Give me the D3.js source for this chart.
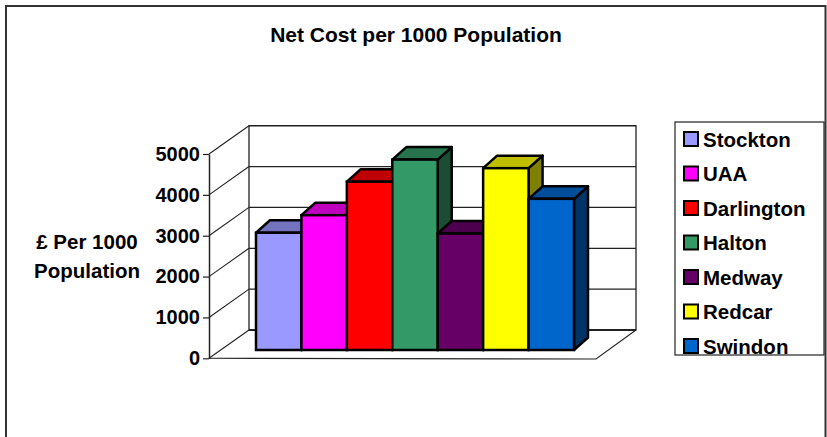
<html>
<head>
    <meta charset="utf-8" />
    <title>Net Cost per 1000 Population</title>
    <script src="https://d3js.org/d3.v7.min.js"></script>
    <style>
      body { margin: 0; background: #fff; }
      text { font-family: "Liberation Sans", Arial, sans-serif; font-weight: bold; fill: #000; }
    </style>
</head>
<body>
    <svg class="chart"></svg>
    <script type="application/javascript">
    // data
    const series = ["Stockton", "UAA", "Darlington", "Halton", "Medway", "Redcar", "Swindon"];
    const values = [2870, 3300, 4120, 4660, 2850, 4450, 3700];
    const colors = ["#9999FF", "#FF00FF", "#FF0000", "#339966", "#660066", "#FFFF00", "#0066CC"];
    const ticks = [0, 1000, 2000, 3000, 4000, 5000];

    const W = 827, H = 437;
    const svg = d3.select("svg").attr("width", W).attr("height", H);

    // outer chart border
    svg.append("rect")
      .attr("x", 6).attr("y", 6).attr("width", 819.5).attr("height", 440)
      .attr("fill", "#fff").attr("stroke", "#333").attr("stroke-width", 2);

    svg.append("text")
      .attr("x", 416).attr("y", 42)
      .attr("text-anchor", "middle")
      .style("font-size", "21px")
      .text("Net Cost per 1000 Population");

    // 3d box: front plane and depth offset to the back wall
    const axX = 209, depthX = 40, depthY = -28.3;
    const floorRight = 596;
    const yFront = d3.scaleLinear().domain([0, 5000]).range([358.3, 154]);
    const yBack = v => yFront(v) + depthY;

    const g = svg.append("g");

    // back wall
    g.append("rect")
      .attr("x", axX + depthX).attr("y", yBack(5000))
      .attr("width", floorRight - axX).attr("height", yBack(0) - yBack(5000))
      .attr("fill", "#fff").attr("stroke", "#222").attr("stroke-width", 1.3);

    // gridlines on back wall and side wall
    g.selectAll(".grid").data(ticks).enter().append("line")
      .attr("x1", axX + depthX).attr("x2", floorRight + depthX)
      .attr("y1", d => yBack(d)).attr("y2", d => yBack(d))
      .attr("stroke", "#222").attr("stroke-width", d => d === 0 ? 2 : 1.3);
    g.selectAll(".side").data(ticks).enter().append("line")
      .attr("x1", axX).attr("x2", axX + depthX)
      .attr("y1", d => yFront(d)).attr("y2", d => yBack(d))
      .attr("stroke", "#222").attr("stroke-width", 1.1);

    // floor
    g.append("path")
      .attr("d", `M${axX},${yFront(0)}L${floorRight},${yFront(0) + 0.7}L${floorRight + depthX},${yBack(0)}`)
      .attr("fill", "none").attr("stroke", "#222").attr("stroke-width", 1.1);

    // bars
    const x = d3.scaleBand().domain(series).range([256, 574]).padding(0);
    const y = d3.scaleLinear().domain([0, 5000]).range([350, 145.7]);
    const bdx = 14, bdy = -12.5;
    const shade = (c, k) => { const r = d3.rgb(c); return d3.rgb(r.r * k, r.g * k, r.b * k).toString(); };

    const bars = g.selectAll(".bar").data(series).enter().append("g").attr("class", "bar");
    bars.append("path")
      .attr("d", (d, i) => {
        const x1 = x(d) + x.bandwidth(), t = y(values[i]), b = y(0);
        return `M${x1},${t}L${x1 + bdx},${t + bdy}L${x1 + bdx},${b + bdy}L${x1},${b}Z`;
      })
      .attr("fill", (d, i) => shade(colors[i], 0.5))
      .attr("stroke", "#000").attr("stroke-width", 2.5).attr("stroke-linejoin", "round");
    bars.append("path")
      .attr("d", (d, i) => {
        const x0 = x(d), x1 = x0 + x.bandwidth(), t = y(values[i]);
        return `M${x0},${t}L${x0 + bdx},${t + bdy}L${x1 + bdx},${t + bdy}L${x1},${t}Z`;
      })
      .attr("fill", (d, i) => shade(colors[i], 0.75))
      .attr("stroke", "#000").attr("stroke-width", 2.5).attr("stroke-linejoin", "round");
    bars.append("rect")
      .attr("x", d => x(d)).attr("width", x.bandwidth())
      .attr("y", (d, i) => y(values[i])).attr("height", (d, i) => y(0) - y(values[i]))
      .attr("fill", (d, i) => colors[i])
      .attr("stroke", "#000").attr("stroke-width", 2.5);

    // value axis
    const axis = svg.append("g")
      .attr("transform", `translate(${axX},0)`)
      .call(d3.axisLeft(yFront).tickValues(ticks).tickFormat(d3.format("d")).tickSize(6).tickSizeOuter(0).tickPadding(3));
    axis.select(".domain").attr("stroke", "#222").attr("stroke-width", 1.5);
    axis.selectAll(".tick line").attr("stroke", "#222").attr("stroke-width", 1.2);
    axis.selectAll(".tick text")
      .style("font-size", "20px").style("font-family", "'Liberation Sans', Arial, sans-serif")
      .style("font-weight", "bold").attr("fill", "#000");

    // axis title
    const yTitle = svg.append("text").attr("text-anchor", "middle").style("font-size", "20.5px");
    yTitle.append("tspan").attr("x", 87).attr("y", 249).text("£ Per 1000");
    yTitle.append("tspan").attr("x", 87).attr("y", 278).text("Population");

    // legend
    svg.append("rect")
      .attr("x", 675).attr("y", 122).attr("width", 149).attr("height", 233)
      .attr("fill", "#fff").attr("stroke", "#222").attr("stroke-width", 1.2);
    const ly = d3.scalePoint().domain(series).range([139, 346]);
    const leg = svg.selectAll(".leg").data(series).enter().append("g")
      .attr("transform", d => `translate(684,${ly(d)})`);
    leg.append("rect")
      .attr("x", 0).attr("y", -7).attr("width", 14).attr("height", 14)
      .attr("fill", (d, i) => colors[i]).attr("stroke", "#000").attr("stroke-width", 2);
    leg.append("text")
      .attr("x", 19).attr("y", 7.5)
      .style("font-size", "20.5px")
      .text(d => d);
    </script>
</body>
</html>
